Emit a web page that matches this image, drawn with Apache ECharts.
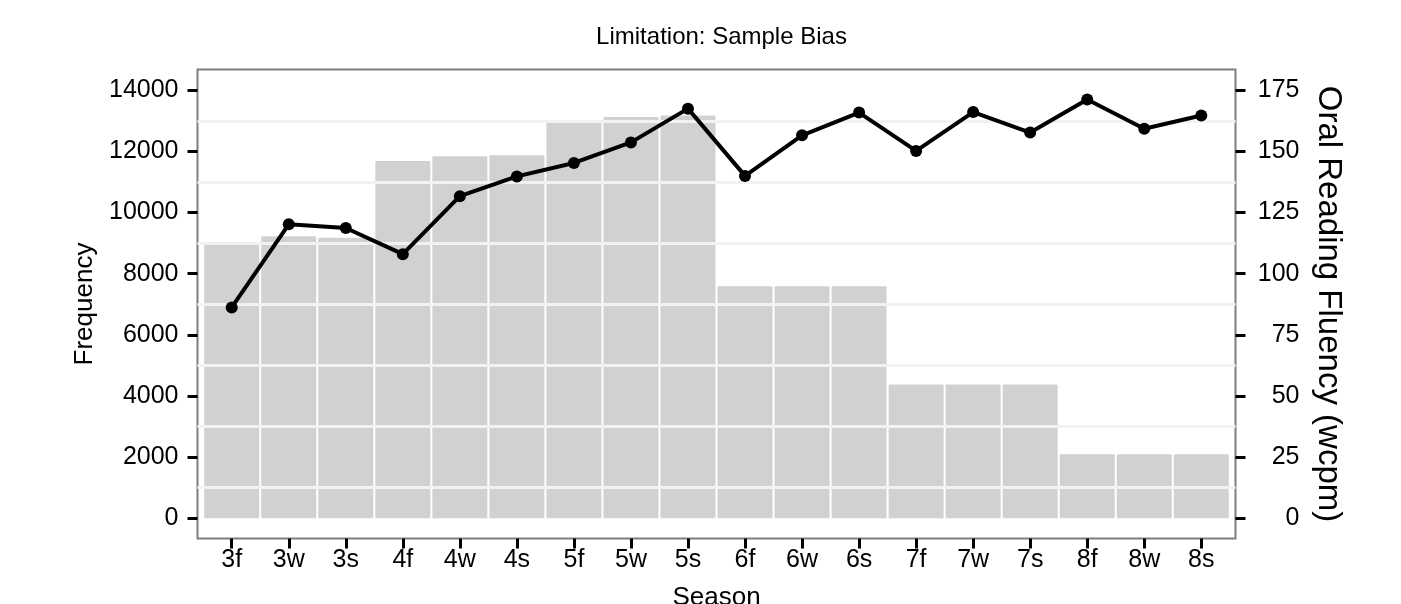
<!DOCTYPE html>
<html>
<head>
<meta charset="utf-8">
<script src="https://cdn.jsdelivr.net/npm/echarts@6/dist/echarts.min.js"></script>
<style>
html,body{margin:0;padding:0;background:#fff;}
#chart{width:1401px;height:604px;}
</style>
</head>
<body>
<div id="chart"></div>
<script>
const categories = ['3f','3w','3s','4f','4w','4s','5f','5w','5s','6f','6w','6s','7f','7w','7s','8f','8w','8s'];
const frequency = [8960, 9230, 9180, 11690, 11840, 11875, 12945, 13130, 13175, 7590, 7590, 7590, 4375, 4375, 4375, 2095, 2095, 2095];
const wcpm = [86.2, 120.2, 118.7, 108.0, 131.7, 139.8, 145.3, 153.7, 167.5, 140.0, 156.6, 165.9, 150.2, 166.1, 157.7, 171.2, 159.3, 164.7];
const freqTicks = [0, 2000, 4000, 6000, 8000, 10000, 12000, 14000];
const wcpmTicks = [0, 25, 50, 75, 100, 125, 150, 175];
const gridLines = [1000, 3000, 5000, 7000, 9000, 11000, 13000];

const catIdx = categories.map((c, i) => i);
const font = '"Liberation Sans", Arial, sans-serif';

const chart = echarts.init(document.getElementById('chart'), null, {renderer: 'canvas'});
chart.setOption({
  animation: false,
  backgroundColor: '#ffffff',
  textStyle: {fontFamily: font, color: '#000'},
  title: {
    text: 'Limitation: Sample Bias',
    left: 716.5,
    textAlign: 'center',
    top: 20,
    textStyle: {fontFamily: font, fontSize: 24, fontWeight: 'normal', color: '#000'}
  },
  grid: {
    left: 197.5, right: 165.5, top: 69.5, bottom: 65.5,
    containLabel: false,
    outerBoundsMode: 'none',
    show: true, borderColor: '#7f7f7f', borderWidth: 2, backgroundColor: 'transparent'
  },
  xAxis: {
    type: 'value',
    min: -0.6, max: 17.6,
    name: 'Season',
    nameLocation: 'middle',
    nameGap: 46,
    nameTextStyle: {fontFamily: font, fontSize: 26, color: '#000'},
    axisLine: {show: false, onZero: false},
    splitLine: {show: false},
    axisTick: {show: true, length: 10, lineStyle: {color: '#000', width: 3}, customValues: catIdx},
    axisLabel: {
      customValues: catIdx, margin: 9,
      fontFamily: font, fontSize: 25, color: '#000',
      formatter: v => categories[Math.round(v)]
    }
  },
  yAxis: [{
    type: 'value',
    position: 'left',
    min: -660, max: 14680,
    name: 'Frequency',
    nameLocation: 'middle',
    nameGap: 99,
    nameRotate: 90,
    nameTextStyle: {fontFamily: font, fontSize: 26, color: '#000'},
    axisLine: {show: false, onZero: false},
    splitLine: {show: false},
    axisTick: {show: true, length: 10, lineStyle: {color: '#000', width: 3}, customValues: freqTicks},
    axisLabel: {customValues: freqTicks, margin: 19, fontFamily: font, fontSize: 25, color: '#000', formatter: v => String(v)}
  }, {
    type: 'value',
    position: 'right',
    min: -8.25, max: 183.5,
    name: 'Oral Reading Fluency (wcpm)',
    nameLocation: 'middle',
    nameGap: 76,
    nameRotate: -90,
    nameTextStyle: {fontFamily: font, fontSize: 33, color: '#000'},
    axisLine: {show: false, onZero: false},
    splitLine: {show: false},
    axisTick: {show: true, length: 10, lineStyle: {color: '#000', width: 3}, customValues: wcpmTicks},
    axisLabel: {customValues: wcpmTicks, margin: 64, align: 'right', fontFamily: font, fontSize: 25, color: '#000', formatter: v => String(v)}
  }],
  series: [{
    type: 'bar',
    yAxisIndex: 0,
    data: frequency.map((v, i) => [i, v]),
    barWidth: 55,
    itemStyle: {color: '#d1d1d1', borderRadius: [1, 1, 0, 0]},
    z: 2,
    markLine: {
      silent: true,
      symbol: ['none', 'none'],
      label: {show: false},
      lineStyle: {color: '#f2f2f2', width: 3, type: 'solid'},
      data: gridLines.map(v => ({yAxis: v})),
      z: 5
    }
  }, {
    type: 'line',
    yAxisIndex: 1,
    data: wcpm.map((v, i) => [i, v]),
    symbol: 'circle',
    symbolSize: 12,
    lineStyle: {color: '#000', width: 4},
    itemStyle: {color: '#000'},
    z: 10
  }]
});
</script>
</body>
</html>
